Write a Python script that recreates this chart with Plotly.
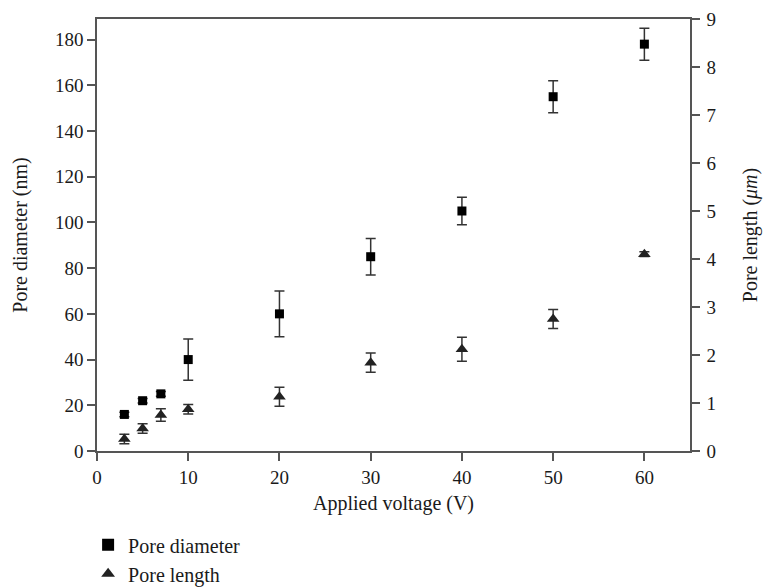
import plotly.graph_objects as go

voltage = [3, 5, 7, 10, 20, 30, 40, 50, 60]
pore_diameter = [16, 22, 25, 40, 60, 85, 105, 155, 178]
pore_diameter_err = [1, 1, 1, 9, 10, 8, 6, 7, 7]
pore_length = [0.25, 0.47, 0.75, 0.87, 1.13, 1.84, 2.12, 2.75, 4.1]
pore_length_err = [0.1, 0.1, 0.13, 0.1, 0.2, 0.2, 0.25, 0.2, 0.05]

x_ticks = [0, 10, 20, 30, 40, 50, 60]
y_ticks = [0, 20, 40, 60, 80, 100, 120, 140, 160, 180]
y2_ticks = [0, 1, 2, 3, 4, 5, 6, 7, 8, 9]

FONT = "Liberation Serif, DejaVu Serif, serif"
AXC = "#555555"
TXT = "#1a1a1a"

fig = go.Figure()
fig.add_trace(go.Scatter(
    x=voltage, y=pore_diameter, mode="markers", name="Pore diameter",
    marker=dict(symbol="square", size=9, color="#000000"),
    error_y=dict(type="data", array=pore_diameter_err, color="#333333",
                 thickness=1.5, width=5),
    yaxis="y",
))
fig.add_trace(go.Scatter(
    x=voltage, y=pore_length, mode="markers", name="Pore length",
    marker=dict(symbol="triangle-up", size=11, color="#222222"),
    error_y=dict(type="data", array=pore_length_err, color="#333333",
                 thickness=1.5, width=5),
    yaxis="y2",
))

fig.update_layout(
    width=765, height=588,
    margin=dict(l=97, r=75, t=19, b=137, autoexpand=False),
    paper_bgcolor="white", plot_bgcolor="white",
    font=dict(family=FONT, size=19, color=TXT),
    showlegend=True,
    legend=dict(x=-0.015, y=-0.172, xanchor="left", yanchor="top",
                orientation="v", itemsizing="constant",
                font=dict(family=FONT, size=20, color=TXT),
                bgcolor="rgba(0,0,0,0)", tracegroupgap=0),
    xaxis=dict(
        range=[0, 65], tickvals=x_ticks, ticks="outside", ticklen=8,
        tickwidth=1.5, tickcolor=AXC, showline=True, linecolor=AXC,
        linewidth=1.5, mirror=True, showgrid=False, zeroline=False,
        title=dict(text="Applied voltage (V)", font=dict(size=20), standoff=9),
        tickfont=dict(size=19),
    ),
    yaxis=dict(
        range=[0, 189], tickvals=y_ticks, ticks="outside", ticklen=8,
        tickwidth=1.5, tickcolor=AXC, showline=True, linecolor=AXC,
        linewidth=1.5, showgrid=False, zeroline=False,
        title=dict(text="Pore diameter (nm)", font=dict(size=20), standoff=22),
        tickfont=dict(size=19),
    ),
    yaxis2=dict(
        range=[0, 9], tickvals=y2_ticks, ticks="outside", ticklen=8,
        tickwidth=1.5, tickcolor=AXC, showline=True, linecolor=AXC,
        linewidth=1.5, showgrid=False, zeroline=False,
        overlaying="y", side="right", anchor="x",
        title=dict(text="Pore length (<i>μm</i>)", font=dict(size=20), standoff=27),
        tickfont=dict(size=19), ticklabelstandoff=3,
    ),
)

fig.write_html("out.html")
